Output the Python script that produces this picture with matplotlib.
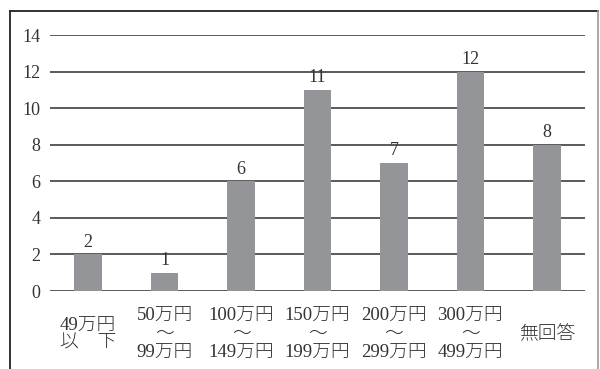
import numpy as np
import matplotlib
matplotlib.use("Agg")
import matplotlib.pyplot as plt
from matplotlib.lines import Line2D

plt.rcParams["font.family"] = ["Liberation Serif", "Noto Sans CJK JP", "DejaVu Sans"]

# ── data ──
categories = [
    "49万円\n以\u3000下",
    "50万円\n〜\n99万円",
    "100万円\n〜\n149万円",
    "150万円\n〜\n199万円",
    "200万円\n〜\n299万円",
    "300万円\n〜\n499万円",
    "無回答",
]
counts = [2, 1, 6, 11, 7, 12, 8]
yticks = [0, 2, 4, 6, 8, 10, 12, 14]

BAR = "#939598"
GRID = "#4d4d4d"
TEXT = "#333333"

W, H = 600, 369
fig = plt.figure(figsize=(W / 100, H / 100), dpi=100)
ax = fig.add_axes([50 / W, 1 - 291 / H, 535 / W, 256 / H])

x = np.arange(len(categories))
ax.bar(x, counts, width=0.36, color=BAR, zorder=3)

for xi, v in zip(x, counts):
    ax.text(xi, v + 0.2, str(v), ha="center", va="bottom",
            fontsize=13, color=TEXT)

ax.set_xlim(-0.5, len(categories) - 0.5)
ax.set_ylim(0, 14)
ax.set_yticks(yticks)
ax.set_yticklabels([str(t) for t in yticks], fontsize=13, color=TEXT)
for t in yticks:
    ax.axhline(t, color=GRID, linewidth=1.3, zorder=1)

ax.set_xticks(x)
ax.set_xticklabels(categories, fontsize=13.5, color=TEXT, va="center",
                   linespacing=1.1, multialignment="center",
                   fontweight="light")
ax.tick_params(axis="both", length=0)
ax.tick_params(axis="y", pad=7)
ax.tick_params(axis="x", pad=31)
ax.spines[:].set_visible(False)

# outer frame (bottom edge cut off in the original)
fig.add_artist(Line2D([10 / W, 10 / W], [0, 1 - 11 / H], transform=fig.transFigure,
                      color="#222222", linewidth=1.3))
fig.add_artist(Line2D([10 / W, 598 / W], [1 - 11 / H, 1 - 11 / H], transform=fig.transFigure,
                      color="#222222", linewidth=1.3))
fig.add_artist(Line2D([598 / W, 598 / W], [0, 1 - 11 / H], transform=fig.transFigure,
                      color="#999999", linewidth=1.2))

fig.savefig("out.png", dpi=100, facecolor="white")
